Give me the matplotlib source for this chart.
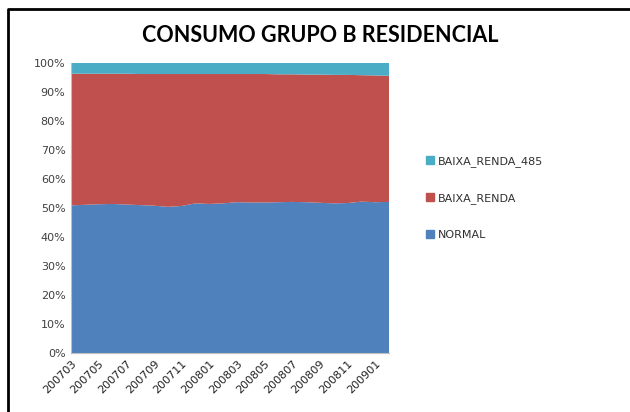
import matplotlib.pyplot as plt
from matplotlib.lines import Line2D
from matplotlib.patches import Patch

# monthly periods, 200703 .. 200902
periods = ['200703', '200704', '200705', '200706', '200707', '200708',
           '200709', '200710', '200711', '200712', '200801', '200802',
           '200803', '200804', '200805', '200806', '200807', '200808',
           '200809', '200810', '200811', '200812', '200901', '200902']

# shares in percent
normal = [50.9, 51.1, 51.3, 51.4, 51.2, 51.0, 50.8, 50.4, 50.7, 51.6, 51.4, 51.6,
          52.0, 51.9, 51.9, 52.0, 52.1, 52.0, 51.8, 51.6, 51.7, 52.2, 52.0, 52.1]
baixa_renda = [45.4, 45.2, 45.0, 44.9, 45.1, 45.2, 45.4, 45.8, 45.5, 44.6, 44.8, 44.6,
               44.2, 44.3, 44.3, 44.1, 44.0, 44.0, 44.2, 44.3, 44.2, 43.6, 43.7, 43.5]
baixa_renda_485 = [100 - a - b for a, b in zip(normal, baixa_renda)]

series_names = ['NORMAL', 'BAIXA_RENDA', 'BAIXA_RENDA_485']
colors = ['#4F81BD', '#C0504D', '#4BACC6']

fig = plt.figure(figsize=(6.3, 4.12), dpi=100)
ax = fig.add_axes([71 / 630, 1 - 353 / 412, 318 / 630, 290 / 412])

x = list(range(len(periods)))
ax.stackplot(x, normal, baixa_renda, baixa_renda_485, colors=colors, linewidth=0)

ax.set_xlim(0, len(periods) - 1)
ax.set_ylim(0, 100)
ax.set_yticks(range(0, 101, 10))
ax.set_yticklabels([f'{v}%' for v in range(0, 101, 10)], fontsize=8, color='#404040')
ax.set_xticks(x[::2])
ax.set_xticklabels(periods[::2], rotation=45, ha='right', rotation_mode='anchor',
                   fontsize=8, color='#202020')
ax.tick_params(length=0, pad=4)
for side in ['top', 'right']:
    ax.spines[side].set_visible(False)
for side in ['left', 'bottom']:
    ax.spines[side].set_color('#BFBFBF')
    ax.spines[side].set_linewidth(0.8)

fig.text(320 / 630, 1 - 36 / 412, 'CONSUMO GRUPO B RESIDENCIAL', ha='center', va='center',
         fontsize=15.5, fontweight='bold', family='Lato')

handles = [Patch(color=c) for c in colors][::-1]
fig.legend(handles, series_names[::-1], loc='center left',
           bbox_to_anchor=(416 / 630, 1 - 198 / 412), frameon=False, fontsize=8,
           labelcolor='#303030',
           handlelength=0.7, handleheight=0.7, handletextpad=0.4, labelspacing=2.35)

# outer frame (top and left edges only)
fig.add_artist(Line2D([8 / 630, 8 / 630, 1], [0, 1 - 9 / 412, 1 - 9 / 412],
                      transform=fig.transFigure, color='black', linewidth=2))

fig.savefig('out.png', dpi=100)
